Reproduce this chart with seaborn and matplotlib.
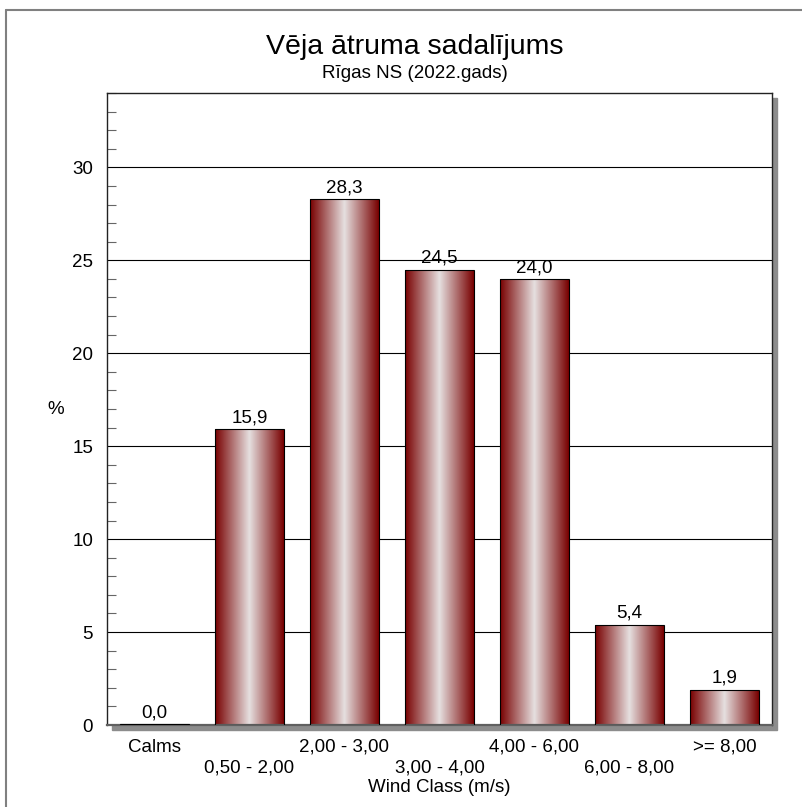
import numpy as np
import pandas as pd
import matplotlib
matplotlib.use("Agg")
import matplotlib.pyplot as plt
import seaborn as sns
from matplotlib.colors import LinearSegmentedColormap
from matplotlib.patches import Rectangle
from matplotlib.lines import Line2D
from matplotlib.ticker import MultipleLocator

# Data
classes = ["Calms", "0,50 - 2,00", "2,00 - 3,00", "3,00 - 4,00",
           "4,00 - 6,00", "6,00 - 8,00", ">= 8,00"]
percent = [0.049, 15.9, 28.3, 24.5, 24.0, 5.4, 1.9]

df = pd.DataFrame({"cls": classes, "pct": percent})

sns.set_style("white")
plt.rcParams['font.family'] = ['Liberation Sans', 'DejaVu Sans']
plt.rcParams['text.color'] = 'black'
plt.rcParams['axes.labelcolor'] = 'black'

W, H = 803, 807
fig = plt.figure(figsize=(W / 100, H / 100), dpi=100)
ax = fig.add_axes([107 / W, (H - 725) / H, 665 / W, 632 / H])

# shadow behind plot area
fig.add_artist(Rectangle((112 / W, (H - 730) / H), 665 / W, 632 / H,
                         transform=fig.transFigure, color="#8c8c8c", zorder=-1))
# outer frame (top and left edge)
fig.add_artist(Line2D([6 / W, 1], [(H - 10) / H] * 2, transform=fig.transFigure,
                      color="#808080", lw=1.5))
fig.add_artist(Line2D([6 / W] * 2, [0, (H - 10) / H], transform=fig.transFigure,
                      color="#808080", lw=1.5))

sns.barplot(data=df, x="cls", y="pct", ax=ax, width=0.72, color="#800000",
            edgecolor="black", linewidth=0.8, zorder=3)

# gradient fill for the bars
cmap = LinearSegmentedColormap.from_list("bar", ["#780000", "#e6e0e0", "#780000"])
grad = np.linspace(0, 1, 256).reshape(1, -1)
for p in ax.patches:
    x0, w, h = p.get_x(), p.get_width(), p.get_height()
    im = ax.imshow(grad, extent=[x0, x0 + w, 0, h], aspect="auto", cmap=cmap,
                   zorder=2.5, interpolation="bilinear")
    im.set_clip_path(p)
    p.set_facecolor("none")

ax.bar_label(ax.containers[0], labels=[f"{v:.1f}".replace(".", ",") for v in percent],
             padding=2, fontsize=13.5, color="black")

ax.set_xlim(-0.5, 6.5)
ax.set_ylim(0, 34)
ax.set_aspect("auto")

# y axis
ax.yaxis.set_major_locator(MultipleLocator(5))
ax.yaxis.set_minor_locator(MultipleLocator(1))
ax.tick_params(axis="y", which="major", direction="out", length=6.5, width=0.8,
               color="#444444", labelcolor="black", labelsize=13.5, pad=3.5)
ax.tick_params(axis="y", which="minor", direction="in", length=6.5, width=0.8,
               color="#666666", left=True)
ax.grid(axis="y", which="major", color="black", lw=0.8)
ax.set_axisbelow(True)

# x axis, labels on alternating rows
ax.tick_params(axis="x", which="major", direction="inout", length=16, width=0.8,
               color="#555555", labelcolor="black", labelsize=13.5)
for i, t in enumerate(ax.xaxis.get_major_ticks()):
    t.set_pad(2 if i % 2 == 0 else 16.5)

ax.set_xlabel("Wind Class (m/s)", fontsize=13.5)
ax.xaxis.set_label_coords(0.5, (725 - 788) / 632)
ax.xaxis.label.set_va("center")
ax.set_ylabel("%", rotation=0, fontsize=13.5)
ax.yaxis.set_label_coords((56 - 107) / 665, (725 - 410) / 632)
ax.yaxis.label.set_va("center")
ax.yaxis.label.set_ha("center")

for s in ["left", "top", "right"]:
    ax.spines[s].set_color("#222222")
    ax.spines[s].set_linewidth(1)
ax.spines["bottom"].set_color("#606060")
ax.spines["bottom"].set_linewidth(1.6)

fig.text(415 / W, 1 - 47 / H, "Vēja ātruma sadalījums", ha="center", va="center",
         fontsize=20.5)
fig.text(415 / W, 1 - 73 / H, "Rīgas NS (2022.gads)", ha="center", va="center",
         fontsize=13.5)

fig.savefig("out.png", dpi=100)
